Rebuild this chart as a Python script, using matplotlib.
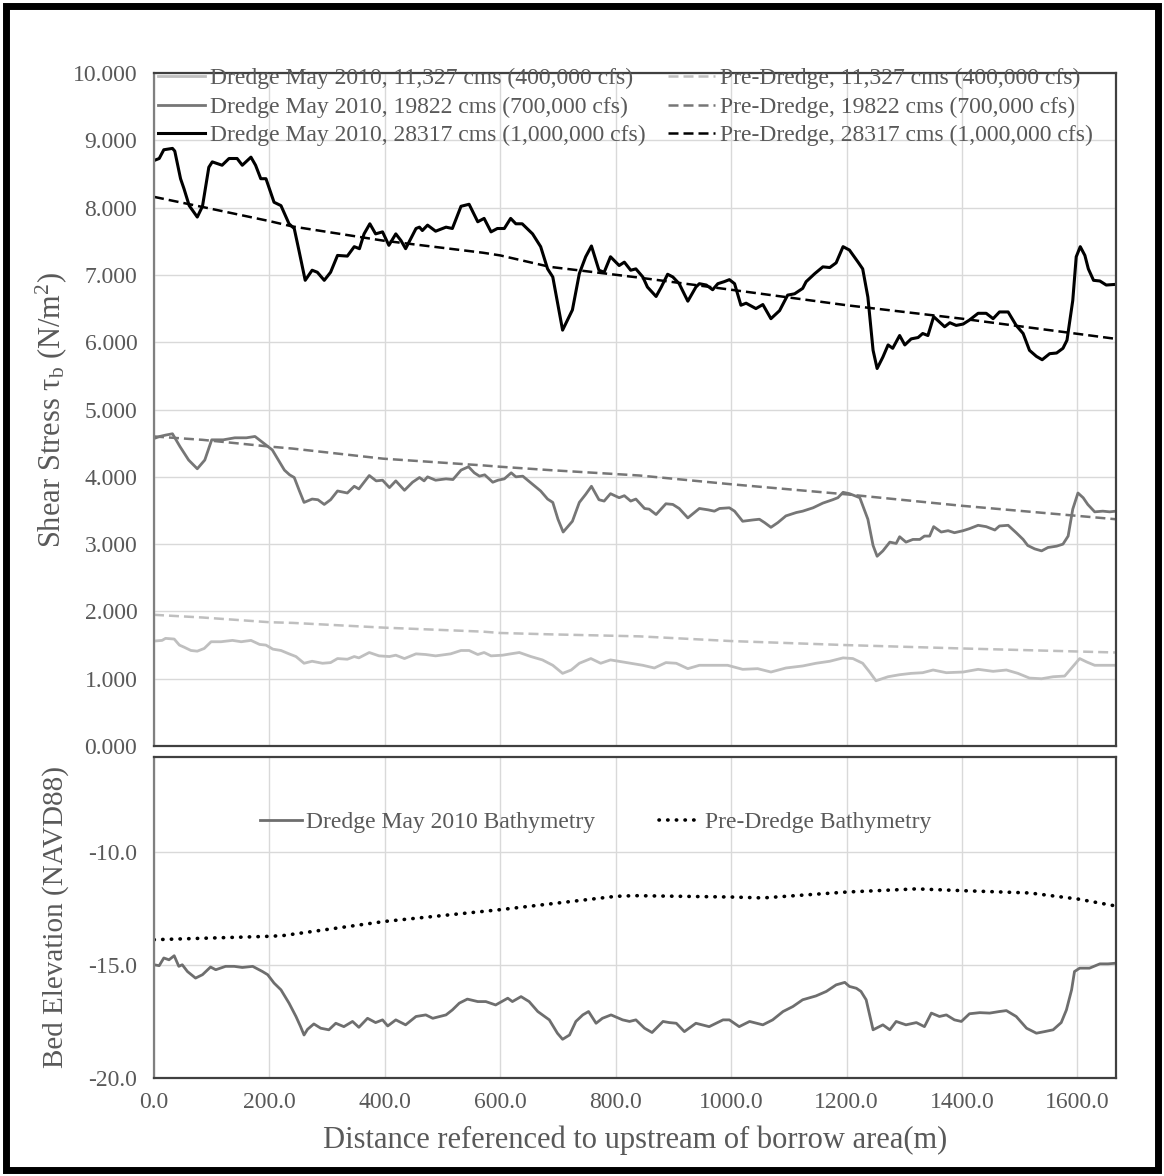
import matplotlib

matplotlib.use("Agg")

import matplotlib.pyplot as plt
from matplotlib.patches import Rectangle
from matplotlib.ticker import FormatStrFormatter, MultipleLocator

plt.rcParams["font.family"] = ["Liberation Serif", "DejaVu Serif"]
plt.rcParams["mathtext.fontset"] = "custom"
plt.rcParams["mathtext.rm"] = "Liberation Serif"
plt.rcParams["mathtext.it"] = "Liberation Serif:italic"

TEXT = "#595959"
GRID = "#d9d9d9"

# --- shear stress, dredged May 2010 (distance m, N/m2) ---
q1000_x = [0, 9, 17, 32, 36, 46, 52, 61, 75, 84, 95, 101, 118, 130, 144, 153, 168, 176, 185, 194,
           208, 220, 234, 243, 251, 262, 274, 283, 295, 306, 318, 335, 347, 356, 364, 374, 384, 396,
           407, 419, 428, 436, 454, 460, 465, 474, 488, 506, 517, 532, 546, 561, 572, 584, 595, 607,
           618, 627, 638, 656, 670, 682, 691, 708, 725, 737, 748, 758, 771, 780, 791, 806, 815, 826,
           835, 847, 855, 870, 879, 890, 899, 910, 925, 939, 945, 957, 968, 977, 988, 997, 1006, 1017,
           1026, 1043, 1055, 1069, 1084, 1098, 1110, 1124, 1130, 1145, 1159, 1171, 1182, 1194, 1205,
           1220, 1228, 1237, 1246, 1253, 1263, 1272, 1280, 1292, 1301, 1312, 1324, 1332, 1341, 1351,
           1361, 1370, 1379, 1390, 1402, 1413, 1428, 1442, 1454, 1465, 1480, 1494, 1506, 1517, 1529,
           1539, 1552, 1564, 1575, 1582, 1592, 1598, 1605, 1613, 1619, 1628, 1639, 1650, 1667]
q1000_y = [8.70, 8.73, 8.86, 8.88, 8.84, 8.43, 8.28, 8.03, 7.86, 8.02, 8.60, 8.68, 8.63, 8.73, 8.73,
           8.63, 8.75, 8.63, 8.43, 8.43, 8.08, 8.03, 7.76, 7.69, 7.37, 6.92, 7.07, 7.04, 6.92, 7.04,
           7.29, 7.28, 7.42, 7.39, 7.61, 7.76, 7.61, 7.64, 7.44, 7.61, 7.51, 7.39, 7.69, 7.71, 7.66,
           7.74, 7.65, 7.71, 7.69, 8.02, 8.05, 7.79, 7.84, 7.64, 7.69, 7.69, 7.84, 7.76, 7.76, 7.61,
           7.42, 7.09, 6.97, 6.18, 6.48, 7.02, 7.27, 7.43, 7.07, 7.04, 7.27, 7.14, 7.19, 7.07, 7.09,
           6.97, 6.82, 6.68, 6.82, 7.01, 6.97, 6.87, 6.61, 6.82, 6.87, 6.85, 6.78, 6.87, 6.90, 6.93,
           6.87, 6.55, 6.58, 6.50, 6.56, 6.35, 6.47, 6.70, 6.72, 6.80, 6.90, 7.02, 7.12, 7.11, 7.18,
           7.42, 7.37, 7.19, 7.09, 6.67, 5.88, 5.61, 5.78, 5.96, 5.91, 6.10, 5.96, 6.05, 6.07, 6.13,
           6.10, 6.38, 6.30, 6.23, 6.29, 6.25, 6.27, 6.33, 6.43, 6.43, 6.35, 6.45, 6.45, 6.25, 6.13,
           5.88, 5.79, 5.74, 5.83, 5.84, 5.91, 6.03, 6.62, 7.27, 7.42, 7.29, 7.09, 6.92, 6.91, 6.85, 6.86]

q700_x = [0, 10, 20, 32, 45, 60, 75, 88, 100, 120, 140, 160, 175, 190, 205, 226, 235, 243, 252, 260,
          274, 284, 295, 306, 318, 335, 347, 355, 373, 385, 396, 408, 419, 434, 448, 460, 468, 474,
          488, 506, 518, 532, 545, 555, 564, 573, 587, 596, 607, 619, 627, 639, 656, 670, 682, 691,
          700, 709, 725, 737, 748, 758, 771, 780, 791, 806, 815, 826, 835, 850, 858, 870, 887, 899,
          910, 925, 945, 960, 971, 980, 997, 1006, 1020, 1038, 1049, 1058, 1069, 1081, 1095, 1113,
          1124, 1142, 1159, 1176, 1185, 1194, 1205, 1223, 1237, 1246, 1253, 1263, 1275, 1286, 1292,
          1303, 1315, 1327, 1335, 1344, 1351, 1364, 1376, 1387, 1402, 1413, 1428, 1442, 1457, 1465,
          1480, 1494, 1506, 1514, 1526, 1538, 1549, 1564, 1575, 1584, 1592, 1601, 1610, 1618, 1630,
          1644, 1656, 1667]
q700_y = [4.57, 4.60, 4.62, 4.64, 4.45, 4.25, 4.12, 4.25, 4.55, 4.55, 4.58, 4.58, 4.60, 4.50, 4.40,
          4.10, 4.03, 3.99, 3.79, 3.62, 3.67, 3.66, 3.59, 3.66, 3.79, 3.76, 3.86, 3.82, 4.02, 3.94,
          3.95, 3.84, 3.94, 3.80, 3.92, 3.99, 3.94, 4.00, 3.95, 3.97, 3.96, 4.10, 4.15, 4.06, 4.01,
          4.03, 3.92, 3.95, 3.97, 4.06, 4.00, 4.01, 3.89, 3.79, 3.67, 3.62, 3.37, 3.18, 3.34, 3.62,
          3.74, 3.86, 3.66, 3.64, 3.75, 3.69, 3.72, 3.64, 3.67, 3.53, 3.52, 3.44, 3.60, 3.59, 3.53,
          3.39, 3.53, 3.51, 3.49, 3.53, 3.54, 3.49, 3.34, 3.36, 3.37, 3.32, 3.25, 3.32, 3.42, 3.47,
          3.49, 3.54, 3.61, 3.66, 3.69, 3.77, 3.75, 3.69, 3.37, 2.98, 2.82, 2.90, 3.03, 3.01, 3.11,
          3.03, 3.07, 3.07, 3.12, 3.12, 3.26, 3.18, 3.20, 3.17, 3.20, 3.23, 3.28, 3.26, 3.21, 3.27,
          3.28, 3.17, 3.07, 2.98, 2.93, 2.90, 2.95, 2.97, 3.00, 3.12, 3.52, 3.76, 3.69, 3.59, 3.48,
          3.49, 3.48, 3.49]

q400_x = [0, 14, 20, 35, 44, 52, 64, 75, 87, 99, 116, 136, 151, 168, 183, 194, 206, 220, 234, 246,
          260, 274, 292, 306, 318, 335, 347, 355, 373, 390, 408, 419, 434, 454, 471, 488, 514, 532,
          546, 561, 572, 584, 604, 618, 633, 653, 673, 691, 708, 723, 737, 757, 774, 791, 812, 826,
          847, 867, 887, 905, 925, 945, 968, 994, 1020, 1046, 1069, 1095, 1124, 1147, 1171, 1194,
          1211, 1228, 1240, 1251, 1272, 1292, 1312, 1332, 1350, 1373, 1402, 1428, 1454, 1477, 1497,
          1517, 1538, 1558, 1578, 1592, 1604, 1616, 1630, 1650, 1667]
q400_y = [1.56, 1.57, 1.60, 1.59, 1.50, 1.47, 1.42, 1.41, 1.45, 1.55, 1.55, 1.57, 1.55, 1.57, 1.51,
          1.50, 1.44, 1.42, 1.37, 1.33, 1.23, 1.26, 1.23, 1.24, 1.30, 1.29, 1.33, 1.31, 1.39, 1.34,
          1.33, 1.35, 1.30, 1.37, 1.36, 1.34, 1.37, 1.42, 1.42, 1.36, 1.39, 1.34, 1.35, 1.37, 1.39,
          1.33, 1.28, 1.20, 1.08, 1.13, 1.23, 1.30, 1.23, 1.28, 1.25, 1.23, 1.20, 1.16, 1.24, 1.23,
          1.15, 1.20, 1.20, 1.20, 1.14, 1.15, 1.10, 1.16, 1.19, 1.23, 1.26, 1.31, 1.30, 1.23, 1.10,
          0.97, 1.03, 1.06, 1.08, 1.09, 1.13, 1.09, 1.10, 1.14, 1.11, 1.13, 1.08, 1.01, 1.00, 1.03,
          1.04, 1.18, 1.30, 1.25, 1.20, 1.20, 1.20]

# --- shear stress, pre-dredge ---
pre_x = [0, 84, 200, 240, 397, 570, 600, 686, 841, 1000, 1200, 1400, 1667]
pre1000_y = [8.16, 8.01, 7.80, 7.72, 7.51, 7.33, 7.29, 7.12, 6.96, 6.78, 6.55, 6.35, 6.05]
pre700_y = [4.60, 4.55, 4.45, 4.42, 4.27, 4.17, 4.15, 4.10, 4.02, 3.89, 3.74, 3.57, 3.37]
pre400_y = [1.95, 1.91, 1.84, 1.83, 1.76, 1.70, 1.68, 1.66, 1.63, 1.56, 1.50, 1.45, 1.39]

# --- bed elevation (NAVD88) ---
bathy_x = [0, 9, 17, 26, 35, 43, 49, 58, 72, 84, 98, 107, 124, 139, 153, 171, 188, 197, 208, 220,
           234, 246, 254, 260, 266, 277, 289, 303, 315, 329, 344, 355, 370, 384, 396, 405, 419, 436,
           454, 471, 483, 506, 517, 529, 543, 561, 575, 592, 613, 621, 636, 650, 665, 685, 699, 708,
           720, 731, 743, 753, 766, 777, 792, 812, 824, 835, 850, 863, 882, 893, 905, 919, 939, 962,
           986, 997, 1014, 1032, 1055, 1072, 1090, 1107, 1124, 1147, 1165, 1182, 1197, 1205, 1217,
           1225, 1234, 1246, 1263, 1275, 1286, 1303, 1321, 1335, 1347, 1361, 1373, 1387, 1399, 1413,
           1431, 1448, 1465, 1477, 1494, 1512, 1529, 1543, 1558, 1572, 1581, 1590, 1595, 1604, 1621,
           1639, 1653, 1667]
bathy_y = [-15.00, -15.04, -14.70, -14.78, -14.60, -15.07, -15.00, -15.30, -15.59, -15.44, -15.10,
           -15.22, -15.07, -15.07, -15.12, -15.07, -15.30, -15.44, -15.81, -16.11, -16.70, -17.29,
           -17.74, -18.11, -17.86, -17.62, -17.81, -17.88, -17.59, -17.74, -17.51, -17.77, -17.37,
           -17.56, -17.44, -17.71, -17.44, -17.66, -17.29, -17.22, -17.37, -17.22, -17.00, -16.70,
           -16.52, -16.63, -16.63, -16.78, -16.48, -16.63, -16.41, -16.63, -17.07, -17.44, -18.03,
           -18.30, -18.11, -17.51, -17.22, -17.07, -17.59, -17.37, -17.22, -17.44, -17.51, -17.44,
           -17.81, -18.00, -17.51, -17.56, -17.59, -17.96, -17.59, -17.74, -17.44, -17.44, -17.74,
           -17.51, -17.66, -17.44, -17.07, -16.85, -16.55, -16.38, -16.18, -15.89, -15.78, -15.96,
           -16.04, -16.18, -16.55, -17.88, -17.66, -17.88, -17.51, -17.66, -17.56, -17.74, -17.14,
           -17.29, -17.22, -17.44, -17.51, -17.17, -17.12, -17.14, -17.07, -17.03, -17.29, -17.81,
           -18.03, -17.96, -17.88, -17.56, -17.00, -16.11, -15.30, -15.15, -15.15, -14.96, -14.96,
           -14.93]

pre_bathy_x = [0, 200, 223, 400, 600, 800, 832, 1000, 1055, 1200, 1321, 1402, 1517, 1601, 1667]
pre_bathy_y = [-13.89, -13.74, -13.71, -13.08, -12.56, -11.97, -11.94, -12.00, -12.04, -11.78,
               -11.64, -11.72, -11.82, -12.09, -12.40]

X_TICKS = [0, 200, 400, 600, 800, 1000, 1200, 1400, 1600]

fig = plt.figure(figsize=(11.64, 11.76), dpi=100, facecolor="white")
ax_top = fig.add_axes([0.1323, 0.3656, 0.8265, 0.5723])
ax_bot = fig.add_axes([0.1323, 0.0836, 0.8265, 0.2727], sharex=ax_top)

dash = (0, (4, 2))
ax_top.plot(q400_x, q400_y, color="#bfbfbf", lw=2.0, label="Dredge May 2010, 11,327 cms (400,000 cfs)")
ax_top.plot(q700_x, q700_y, color="#767676", lw=2.0, label="Dredge May 2010, 19822 cms (700,000 cfs)")
ax_top.plot(q1000_x, q1000_y, color="black", lw=2.2, label="Dredge May 2010, 28317 cms (1,000,000 cfs)")
ax_top.plot(pre_x, pre400_y, color="#bfbfbf", lw=1.8, ls=dash, label="Pre-Dredge, 11,327 cms (400,000 cfs)")
ax_top.plot(pre_x, pre700_y, color="#767676", lw=1.8, ls=dash, label="Pre-Dredge, 19822 cms (700,000 cfs)")
ax_top.plot(pre_x, pre1000_y, color="black", lw=1.8, ls=dash, label="Pre-Dredge, 28317 cms (1,000,000 cfs)")

ax_bot.plot(bathy_x, bathy_y, color="#6e6e6e", lw=2.0, label="Dredge May 2010 Bathymetry")
ax_bot.plot(pre_bathy_x, pre_bathy_y, color="black", lw=2.6, ls=(0, (0.1, 2.3)),
            dash_capstyle="round", label="Pre-Dredge Bathymetry")

ax_top.set_xlim(0, 1667)
ax_top.set_ylim(0, 10)
ax_top.yaxis.set_major_locator(MultipleLocator(1))
ax_top.yaxis.set_major_formatter(FormatStrFormatter("%.3f"))
ax_bot.set_ylim(-20, -5.8)
ax_bot.set_yticks([-20, -15, -10])
ax_bot.yaxis.set_major_formatter(FormatStrFormatter("%.1f"))
ax_bot.set_xticks(X_TICKS)
ax_bot.xaxis.set_major_formatter(FormatStrFormatter("%.1f"))

for ax in (ax_top, ax_bot):
    ax.grid(True, color=GRID, lw=1.0)
    ax.set_axisbelow(True)
    ax.tick_params(length=0, labelsize=17, labelcolor=TEXT)
    ax.tick_params(axis="y", pad=12)
    ax.tick_params(axis="x", pad=10)
    for side in ("top", "right", "bottom"):
        ax.spines[side].set_color("#404040")
        ax.spines[side].set_linewidth(1.6)
    ax.spines["left"].set_color("#808080")
    ax.spines["left"].set_linewidth(1.6)
ax_top.tick_params(axis="x", labelbottom=False)

ax_top.set_ylabel("Shear Stress τ$_\\mathregular{b}$ (N/m$^\\mathregular{2}$)", fontsize=22, color=TEXT)
ax_bot.set_ylabel("Bed Elevation (NAVD88)", fontsize=21, color=TEXT)
ax_top.yaxis.set_label_coords(-0.088, 0.5)
ax_bot.yaxis.set_label_coords(-0.088, 0.5)
ax_bot.set_xlabel("Distance referenced to upstream of borrow area(m)", fontsize=22, color=TEXT, labelpad=9)

leg = ax_top.legend(loc="upper left", bbox_to_anchor=(0.004, 1.008), ncol=2, frameon=False,
                    fontsize=17, handlelength=2.0, handletextpad=0.2, columnspacing=0.95,
                    borderpad=0, borderaxespad=0, labelspacing=0.3)
for t in leg.get_texts():
    t.set_color(TEXT)
leg2 = ax_bot.legend(loc="center left", bbox_to_anchor=(0.11, 0.797), ncol=2, frameon=False,
                     fontsize=17, handlelength=1.8, handletextpad=0.15, columnspacing=2.7,
                     borderpad=0, borderaxespad=0)
for t in leg2.get_texts():
    t.set_color(TEXT)

fig.patches.append(Rectangle((0.005, 0.005), 0.99, 0.99, transform=fig.transFigure,
                             fill=False, edgecolor="black", lw=5))

fig.savefig("out.png", dpi=100, facecolor="white")
